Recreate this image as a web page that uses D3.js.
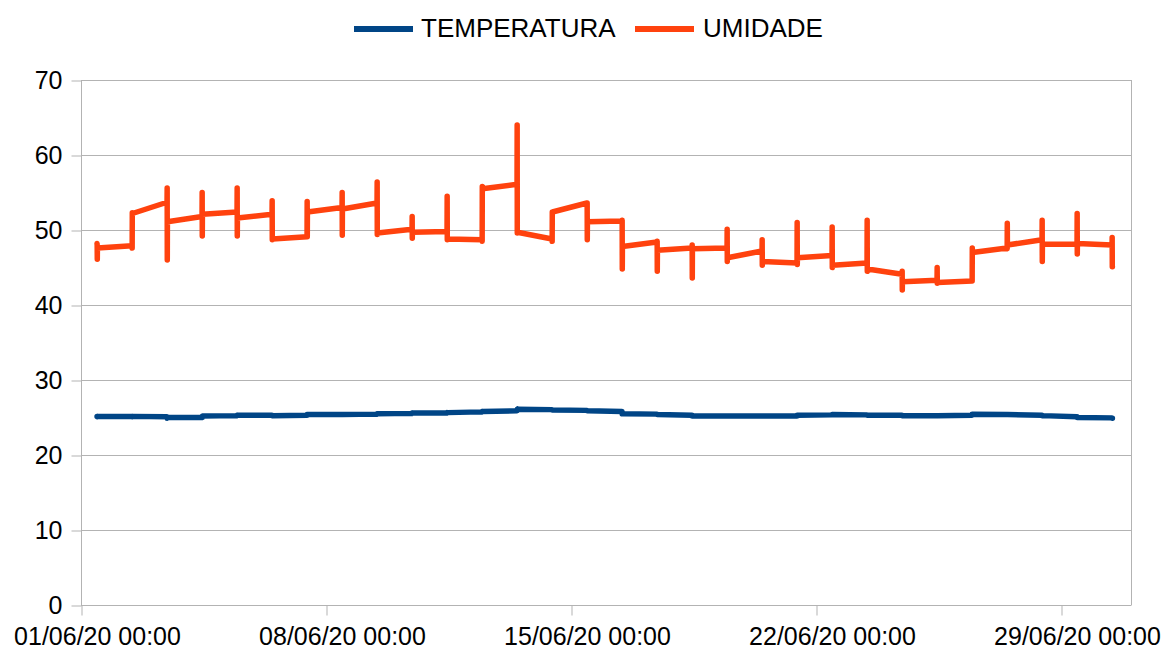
<!DOCTYPE html>
<html>
<head>
<meta charset="utf-8">
<script src="https://cdn.jsdelivr.net/npm/d3@7/dist/d3.min.js"></script>
<style>
  html, body { margin: 0; padding: 0; background: #fff; }
  svg { display: block; font-family: "Liberation Sans", Arial, sans-serif; }
</style>
</head>
<body>
<svg id="chart" width="1167" height="650"></svg>
<script>
// ---- data ----
const dias = ["2020-06-01","2020-06-02","2020-06-03","2020-06-04","2020-06-05","2020-06-06",
  "2020-06-07","2020-06-08","2020-06-09","2020-06-10","2020-06-11","2020-06-12","2020-06-13",
  "2020-06-14","2020-06-15","2020-06-16","2020-06-17","2020-06-18","2020-06-19","2020-06-20",
  "2020-06-21","2020-06-22","2020-06-23","2020-06-24","2020-06-25","2020-06-26","2020-06-27",
  "2020-06-28","2020-06-29","2020-06-30"];
const horarios = ["11:00","11:05","11:10","11:15"];

const umidade = [
  [48.2,48.0,46.1,47.6],[47.9,47.6,52.3,52.2],[53.7,55.6,46.0,51.1],[51.8,55.0,49.2,52.1],
  [52.4,55.6,49.2,51.6],[52.1,53.9,48.7,48.8],[49.1,53.8,49.1,52.4],[53.0,55.0,49.3,52.8],
  [53.6,56.4,49.4,49.6],[50.1,51.8,48.9,49.7],[49.8,54.5,48.7,48.8],[48.7,48.5,55.8,55.5],
  [56.1,64.0,49.6,49.7],[48.8,48.5,52.4,52.4],[53.6,53.6,48.7,51.1],[51.2,51.3,44.8,47.8],
  [48.4,48.5,44.5,47.3],[47.6,48.0,43.6,47.5],[47.6,50.1,45.8,46.3],[47.2,48.7,45.3,45.8],
  [45.6,51.0,45.4,46.3],[46.6,50.4,45.0,45.3],[45.6,51.3,44.5,44.8],[44.1,44.5,42.0,43.1],
  [43.3,45.0,42.9,43.0],[43.2,43.2,47.6,47.0],[47.6,47.5,50.9,48.0],[48.7,51.3,45.8,48.1],
  [48.1,52.2,46.8,48.2],[48.0,49.0,45.1,45.1]
];
const temperatura = [
  [25.15,25.15,25.1,25.15],[25.15,25.15,25.1,25.15],[25.1,24.9,24.95,25.0],[25.0,25.1,25.0,25.2],
  [25.25,25.3,25.25,25.3],[25.3,25.25,25.25,25.25],[25.3,25.4,25.35,25.4],[25.4,25.4,25.4,25.4],
  [25.45,25.5,25.45,25.5],[25.55,25.6,25.55,25.6],[25.6,25.65,25.6,25.65],[25.75,25.8,25.75,25.8],
  [25.9,26.1,26.05,26.1],[26.05,26.0,26.0,26.0],[25.95,25.9,25.9,25.9],[25.8,25.5,25.5,25.5],
  [25.45,25.4,25.4,25.4],[25.3,25.2,25.2,25.2],[25.2,25.2,25.2,25.2],[25.2,25.2,25.2,25.2],
  [25.2,25.3,25.3,25.3],[25.35,25.4,25.4,25.4],[25.35,25.3,25.3,25.3],[25.3,25.25,25.25,25.25],
  [25.25,25.25,25.25,25.25],[25.3,25.45,25.45,25.45],[25.4,25.4,25.4,25.4],[25.3,25.25,25.25,25.25],
  [25.1,25.0,25.0,25.0],[24.95,24.9,24.9,24.9]
];
const yTicks = [0,10,20,30,40,50,60,70];
const xTickDates = ["2020-06-01","2020-06-08","2020-06-15","2020-06-22","2020-06-29"];
const xDomain = ["2020-06-01 00:00","2020-07-01 00:00"];
const series = [
  { nome: "TEMPERATURA", valores: temperatura, cor: "#004586" },
  { nome: "UMIDADE", valores: umidade, cor: "#ff420e" }
];

// ---- chart ----
const parse = d3.timeParse("%Y-%m-%d %H:%M");
const fmt = d3.timeFormat("%d/%m/%y %H:%M");
const svg = d3.select("#chart");
const L = 81, R = 1131, T = 80, B = 605;
const FONT = 25;

const x = d3.scaleTime().domain(xDomain.map(parse)).range([L, R]);
const y = d3.scaleLinear().domain([0, 70]).range([B, T]);

function pontos(vals) {
  const out = [];
  vals.forEach((dia, i) => dia.forEach((v, j) => out.push({ t: parse(dias[i] + " " + horarios[j]), v })));
  return out;
}

// gridlines
svg.append("g").selectAll("line").data(yTicks).join("line")
  .attr("x1", L).attr("x2", R).attr("y1", d => y(d) + 0.5).attr("y2", d => y(d) + 0.5)
  .attr("stroke", "#b3b3b3").attr("stroke-width", 1);
// plot frame sides
svg.append("line").attr("x1", L + 0.5).attr("x2", L + 0.5).attr("y1", T).attr("y2", B + 0.5)
  .attr("stroke", "#b3b3b3");
svg.append("line").attr("x1", R + 0.5).attr("x2", R + 0.5).attr("y1", T).attr("y2", B + 0.5)
  .attr("stroke", "#b3b3b3");

// y axis
const yAxis = svg.append("g").attr("transform", `translate(${L + 0.5},0.5)`)
  .call(d3.axisLeft(y).tickValues(yTicks).tickSize(10).tickPadding(9).tickFormat(d3.format("d")));
yAxis.select(".domain").remove();
yAxis.selectAll(".tick line").attr("stroke", "#b3b3b3");
yAxis.selectAll(".tick text").attr("font-size", FONT).attr("fill", "#000")
  .attr("font-family", "Liberation Sans, Arial, sans-serif");

// x axis
const xAxis = svg.append("g").attr("transform", `translate(0.5,${B + 0.5})`)
  .call(d3.axisBottom(x).tickValues(xTickDates.map(d => parse(d + " 00:00"))).tickSize(10)
    .tickPadding(12).tickFormat(fmt));
xAxis.select(".domain").remove();
xAxis.selectAll(".tick line").attr("stroke", "#b3b3b3");
xAxis.selectAll(".tick text").attr("font-size", FONT).attr("fill", "#000")
  .attr("font-family", "Liberation Sans, Arial, sans-serif")
  .attr("dx", 15.5);

// lines
const line = d3.line().x(d => x(d.t)).y(d => y(d.v));
series.forEach(s => {
  svg.append("path").datum(pontos(s.valores)).attr("d", line)
    .attr("fill", "none").attr("stroke", s.cor).attr("stroke-width", 5.5)
    .attr("stroke-linejoin", "round").attr("stroke-linecap", "round");
});

// legend
const legPos = [{ sx: 354, tx: 421 }, { sx: 635, tx: 703 }];
const leg = svg.append("g");
series.forEach((s, i) => {
  leg.append("line").attr("x1", legPos[i].sx).attr("x2", legPos[i].sx + 59)
    .attr("y1", 29).attr("y2", 29).attr("stroke", s.cor).attr("stroke-width", 6);
  leg.append("text").attr("x", legPos[i].tx).attr("y", 37).attr("font-size", 26)
    .attr("fill", "#000").text(s.nome);
});
</script>
</body>
</html>
